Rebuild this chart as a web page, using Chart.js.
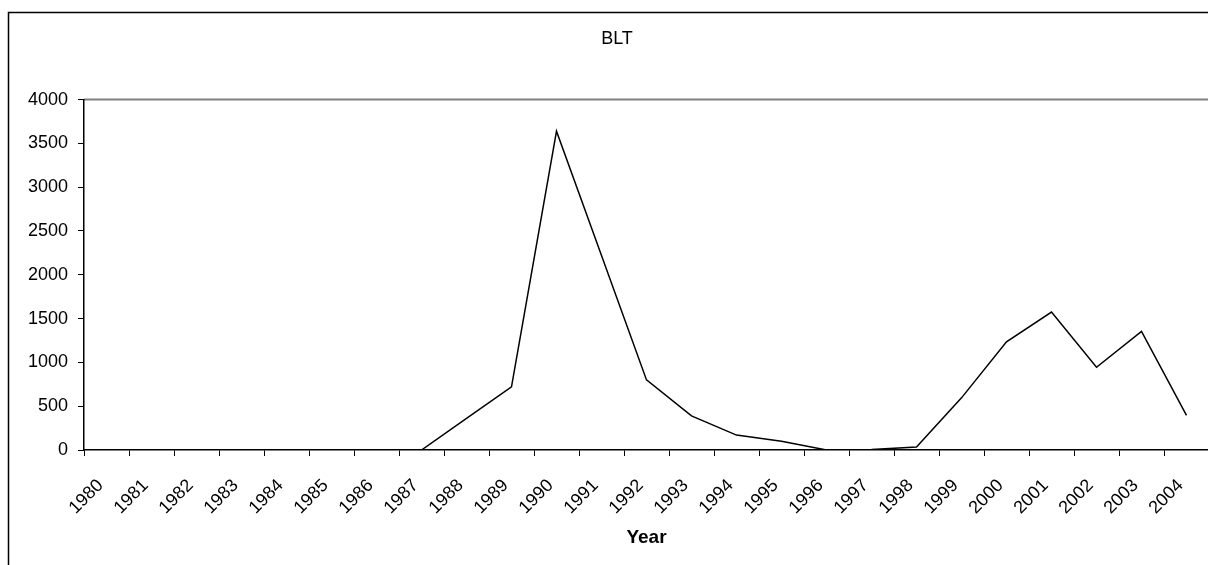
<!DOCTYPE html>
<html>
<head>
<meta charset="utf-8">
<title>BLT</title>
<script src="https://cdn.jsdelivr.net/npm/chart.js@4/dist/chart.umd.min.js"></script>
<style>
  html,body{margin:0;padding:0;background:#fff;overflow:hidden;}
  #wrap{position:absolute;left:0;top:0;width:1226px;height:565px;}
</style>
</head>
<body>
<div id="wrap"><canvas id="chart" width="1226" height="565"></canvas></div>
<script>
// values
const years = ["1980","1981","1982","1983","1984","1985","1986","1987","1988","1989","1990","1991",
               "1992","1993","1994","1995","1996","1997","1998","1999","2000","2001","2002","2003","2004"];
const blt = [null,null,null,null,null,null,null,0,360,720,3640,2220,
             800,390,170,100,0,5,35,595,1235,1575,945,1355,395];
const yTicks = [0,500,1000,1500,2000,2500,3000,3500,4000];

const FONT = "'Liberation Sans', Arial, sans-serif";

// outer chart frame (left + top edges) and the grey line along the top of the plot
const framePlugin = {
  id:"frame",
  beforeDraw(chart){
    const c = chart.ctx, a = chart.chartArea;
    c.save();
    c.strokeStyle = "#000";
    c.lineWidth = 1.5;
    c.beginPath();
    c.moveTo(8.5, chart.height);
    c.lineTo(8.5, 12.5);
    c.lineTo(chart.width, 12.5);
    c.stroke();
    c.strokeStyle = "#808080";
    c.lineWidth = 2;
    c.beginPath();
    c.moveTo(a.left, a.top);
    c.lineTo(chart.width, a.top);
    c.stroke();
    c.restore();
  }
};

new Chart(document.getElementById("chart").getContext("2d"), {
  type:"line",
  data:{
    labels:years,
    datasets:[{
      label:"BLT",
      data:blt,
      borderColor:"#000",
      borderWidth:1.5,
      pointRadius:0,
      tension:0,
      fill:false
    }]
  },
  options:{
    responsive:false,
    animation:false,
    layout:{padding:{left:25,right:17,top:0,bottom:0}},
    plugins:{
      legend:{display:false},
      tooltip:{enabled:false},
      title:{
        display:true,
        text:"BLT",
        color:"#000",
        font:{family:FONT,size:18,weight:"normal"},
        padding:{top:28,bottom:50}
      }
    },
    scales:{
      x:{
        type:"category",
        offset:true,
        grid:{offset:true,drawOnChartArea:false,drawTicks:true,tickLength:6,color:"#000",lineWidth:1},
        border:{display:true,color:"#000",width:1.5},
        ticks:{color:"#000",font:{family:FONT,size:18},maxRotation:45,minRotation:45,autoSkip:false,padding:19,labelOffset:-6},
        title:{display:true,text:"Year",color:"#000",font:{family:FONT,size:19,weight:"bold"},padding:{top:0,bottom:16}},
        afterFit(scale){ scale.height = 115; }
      },
      y:{
        min:0,max:4000,
        grid:{drawOnChartArea:false,drawTicks:true,tickLength:6,color:"#000",lineWidth:1},
        border:{display:true,color:"#000",width:1.5},
        ticks:{color:"#000",font:{family:FONT,size:18},padding:10,callback:v=>String(v)},
        afterBuildTicks(scale){ scale.ticks = yTicks.map(v=>({value:v})); },
        afterFit(scale){ scale.width = 59; }
      }
    }
  },
  plugins:[framePlugin]
});
</script>
</body>
</html>
